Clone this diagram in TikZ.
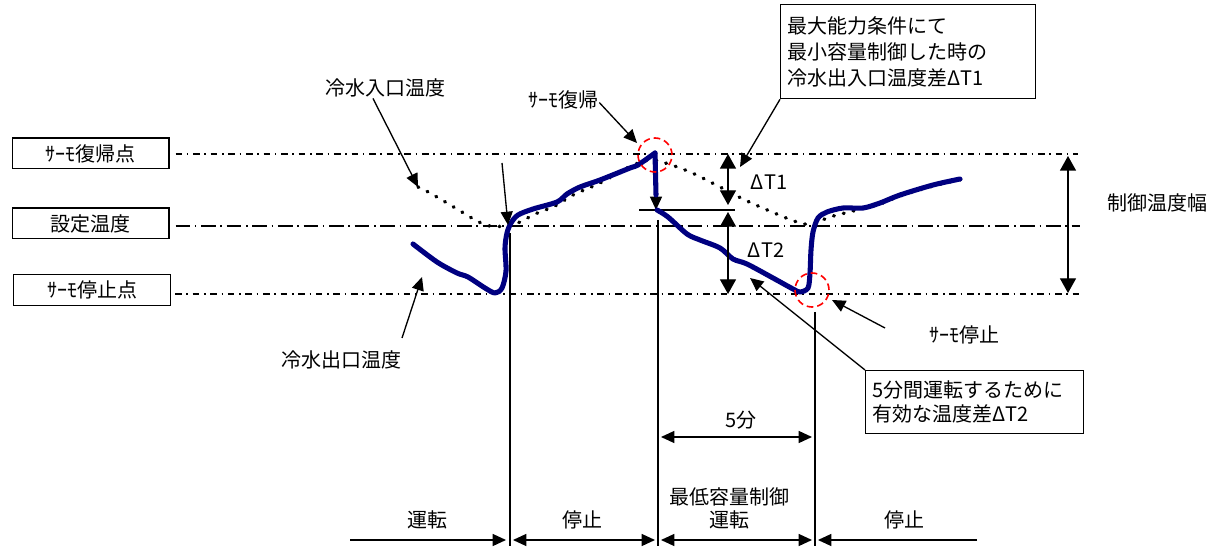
\documentclass[tikz,border=0pt]{standalone}
\usepackage{fontspec}
\setmainfont{Noto Sans CJK JP}
\usetikzlibrary{arrows.meta}

\definecolor{curveblue}{RGB}{0,0,128}
\definecolor{markred}{RGB}{255,0,0}

\begin{document}
\begin{tikzpicture}[x=0.75pt,y=0.75pt,yscale=-1,xscale=1,
  lbl/.style={inner sep=0.75pt, font=\fontsize{15}{18}\selectfont},
  levelbox/.style={draw, line width=1pt, minimum width=117.5pt, minimum height=23pt, inner sep=0pt, font=\fontsize{15}{18}\selectfont},
  notebox/.style={draw, line width=1pt, anchor=north west, align=left, inner xsep=5pt, inner ysep=2pt},
  thermoline/.style={line width=1pt, dash pattern=on 5pt off 3.5pt on 1.2pt off 3.5pt},
  setline/.style={line width=1pt, dash pattern=on 11pt off 3.5pt on 1.2pt off 3.5pt},
  pointer/.style={line width=1pt, -{Triangle[length=10pt,width=9pt]}},
  twohead/.style={line width=1pt, {Triangle[length=10pt,width=9pt]}-{Triangle[length=10pt,width=9pt]}},
  bigtwohead/.style={line width=1pt, {Triangle[length=11pt,width=12pt]}-{Triangle[length=11pt,width=12pt]}},
  guide/.style={line width=1pt},
  water/.style={color=curveblue, line width=3.8pt, line cap=round, line join=round},
  inflow/.style={line width=2.6pt, line cap=round, dash pattern=on 0.6pt off 7pt},
  ring/.style={draw=markred, dash pattern=on 5pt off 3pt, line width=1.2pt, circle, minimum size=25.5pt, inner sep=0pt}
]
\useasboundingbox (0,0) rectangle (1216,548);

% Level boxes
\node[levelbox] (retbox) at (90.5,153.5) {ｻｰﾓ復帰点};
\node[levelbox] (setbox) at (90.5,223.5) {設定温度};
\node[levelbox] (stopbox) at (92,290) {ｻｰﾓ停止点};

% Level lines
\coordinate (retend) at (1078,154);
\coordinate (setend) at (1080,226);
\coordinate (stopend) at (1080,294);
\draw[thermoline, shorten <=4.5pt] (retbox.east |- retend) -- (retend);
\draw[setline, shorten <=4.5pt] (setbox.east |- setend) -- (setend);
\draw[thermoline, shorten <=3pt] (stopbox.east |- stopend) -- (stopend);

% Time lines
\draw[guide] (510,233) -- (510,546);
\draw[guide] (658,220) -- (658,546);
\draw[guide] (815,312) -- (815,546);
\draw[guide] (639,210) -- (735,210);

% Inlet temperature (dotted)
\draw[inflow] plot[smooth, tension=0.6] coordinates {(418,187) (430,193) (457,209) (477,221) (490,226) (505,226) (520,222) (535,214) (555,206) (573,195) (600,183) (627,168) (648,160) (662,162) (690,172) (720,187) (745,200) (772,212) (797,222) (812,224) (830,217) (857,210) (880,204) (900,196) (933,186) (963,179)};

% Outlet temperature (blue)
\draw[pointer] (656,152) -- (656,210);
\draw[water] plot[smooth, tension=0.5] coordinates {(413,244) (437,262) (457,273) (468,277) (485,288) (495,293) (502,288) (506,271) (505,248) (507,233) (511,223) (518,215) (533,209) (557,202) (567,194) (580,187) (600,180) (630,168) (638,165) (655,153)};
\draw[water] (655,153) -- (656,195);
\draw[water] plot[smooth, tension=0.5] coordinates {(657,210) (668,217) (687,234) (700,240) (720,248) (733,259) (747,264) (773,278) (793,289) (800,292) (808,288) (810,273) (811,250) (813,232) (818,218) (827,212) (843,208) (863,208) (880,203) (900,195) (933,185) (960,179)};

% Markers
\node[ring] (rtnring) at (655,155) {};
\node[ring] (stopring) at (812,290) {};

% Text Node
\node[lbl] (inlet) at (385,88) {冷水入口温度};
\node[lbl] (outlet) at (341,360) {冷水出口温度};
\node[lbl] (rtnlbl) at (563,100) {ｻｰﾓ復帰};
\node[lbl] (stoplbl) at (964,335) {ｻｰﾓ停止};
\node[lbl] (widthlbl) at (1157,203) {制御温度幅};
\node[lbl] (dtone) at (769,182) {ΔT1};
\node[lbl] (dttwo) at (766,250) {ΔT2};
\node[lbl] (fivemin) at (741,420) {5分};
\node[lbl] (run) at (427,520) {運転};
\node[lbl] (halt) at (582,520) {停止};
\node[lbl, align=center, font=\fontsize{15}{17}\selectfont] (minrun) at (729,508.5) {最低容量制御\\運転};
\node[lbl] (halttwo) at (904,520) {停止};

% Note boxes
\node[notebox, text width=181pt, minimum height=70.5pt, font=\fontsize{15}{19.5}\selectfont] (maxnote) at (780,4) {最大能力条件にて\\最小容量制御した時の\\冷水出入口温度差ΔT1};
\node[notebox, text width=153.5pt, minimum height=47pt, font=\fontsize{15}{18}\selectfont] (effnote) at (865,370) {5分間運転するために\\有効な温度差ΔT2};

% Pointer ends
\coordinate (inlettip) at (418,187);
\coordinate (outlettail) at (402,338);
\coordinate (outlettip) at (422,277);
\coordinate (settail) at (502,163);
\coordinate (settip) at (508,225);
\coordinate (rtntip) at (637,143);
\coordinate (maxtip) at (740,167);
\coordinate (stoptail) at (885,328);
\coordinate (stoptip) at (832,300);
\coordinate (efftip) at (750,278);

\draw[pointer] ([xshift=-9pt]inlet.south) -- (inlettip);
\draw[pointer] (outlettail) -- (outlettip);
\draw[pointer] (settail) -- (settip);
\draw[pointer] ([yshift=-6pt]rtnlbl.south east) -- (rtntip);
\draw[pointer] (maxnote.south west) -- (maxtip);
\draw[pointer] (stoptail) -- (stoptip);
\draw[pointer] (effnote.north west) -- (efftip);

% Temperature spans
\coordinate (dtop) at (728,154);
\coordinate (dmid) at (728,205);
\coordinate (dlow) at (728,212);
\coordinate (dbot) at (728,294);
\coordinate (wtop) at (1068,156);
\coordinate (wbot) at (1068,293);
\draw[bigtwohead] (dtop) -- (dmid);
\draw[bigtwohead] (dlow) -- (dbot);
\draw[bigtwohead] (wtop) -- (wbot);

% Time spans
\coordinate (fiveA) at (661,437);
\coordinate (fiveB) at (812,437);
\coordinate (runA) at (350,540);
\coordinate (runB) at (506,540);
\coordinate (haltA) at (513,540);
\coordinate (haltB) at (655,540);
\coordinate (minA) at (661,540);
\coordinate (minB) at (812,540);
\coordinate (haltC) at (977,540);
\coordinate (haltD) at (818,540);
\draw[twohead] (fiveA) -- (fiveB);
\draw[pointer] (runA) -- (runB);
\draw[twohead] (haltA) -- (haltB);
\draw[twohead] (minA) -- (minB);
\draw[pointer] (haltC) -- (haltD);

\end{tikzpicture}
\end{document}
